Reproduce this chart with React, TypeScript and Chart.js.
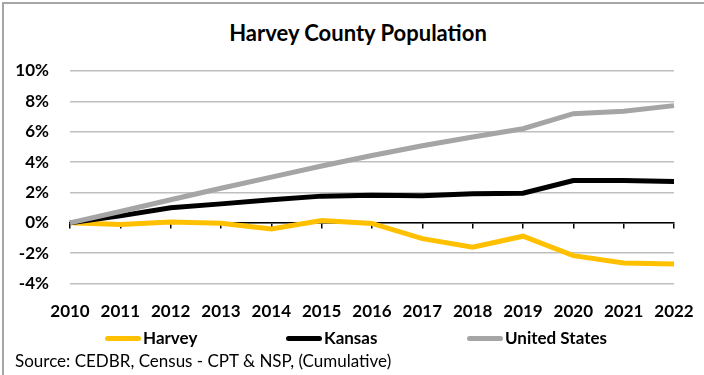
import React, { useEffect, useRef } from "react";
import { Chart, registerables } from "chart.js";

Chart.register(...registerables);

const years = ["2010", "2011", "2012", "2013", "2014", "2015", "2016", "2017", "2018", "2019", "2020", "2021", "2022"];
const harvey = [0, -0.11, 0.06, -0.02, -0.4, 0.15, -0.04, -1.04, -1.61, -0.88, -2.16, -2.64, -2.71];
const kansas = [0, 0.46, 0.99, 1.25, 1.52, 1.76, 1.82, 1.78, 1.91, 1.95, 2.79, 2.79, 2.73];
const unitedStates = [0, 0.75, 1.52, 2.28, 3.01, 3.74, 4.44, 5.08, 5.65, 6.2, 7.19, 7.35, 7.72];
const seriesNames = ["Harvey", "Kansas", "United States"];
const seriesColors = ["#FFC000", "#000000", "#A5A5A5"];
const yTicks = [10, 8, 6, 4, 2, 0, -2, -4];
const titleText = "Harvey County Population";
const sourceText = "Source: CEDBR, Census - CPT & NSP, (Cumulative)";

const FONT = "Lato, 'DejaVu Sans', sans-serif";

export default function App() {
  const ref = useRef<HTMLCanvasElement | null>(null);

  useEffect(() => {
    if (!ref.current) return;
    const data = [harvey, kansas, unitedStates];
    const chart = new Chart(ref.current, {
      type: "line",
      data: {
        labels: years,
        datasets: data.map((d, i) => ({
          label: seriesNames[i],
          data: d,
          borderColor: seriesColors[i],
          backgroundColor: seriesColors[i],
          borderWidth: 5,
          pointRadius: 0,
          tension: 0,
          xAxisID: "x",
          yAxisID: "y",
          order: 3 - i,
        })),
      },
      options: {
        animation: false,
        responsive: false,
        maintainAspectRatio: false,
        layout: { padding: { left: 10, right: 30, top: 71, bottom: 9 } },
        scales: {
          x: {
            type: "category",
            position: "bottom",
            offset: false,
            grid: { display: false, drawTicks: false },
            border: { display: false },
            afterFit: (s: any) => {
              s.paddingLeft = 0;
              s.paddingRight = 0;
            },
            ticks: {
              color: "#000",
              font: { family: FONT, size: 17, weight: "bold" },
              padding: 18,
              maxRotation: 0,
              autoSkip: false,
            },
          },
          x2: {
            type: "category",
            labels: years,
            position: { y: 0 } as any,
            offset: false,
            grid: { drawOnChartArea: false, drawTicks: true, tickLength: 5, color: "#000", lineWidth: 1.5 },
            border: { display: true, color: "#000", width: 1.5 },
            ticks: { display: false },
          },
          y: {
            min: -4,
            max: 10,
            afterBuildTicks: (axis: any) => {
              axis.ticks = yTicks.map((v) => ({ value: v }));
            },
            afterFit: (s: any) => {
              s.width = 60;
            },
            grid: { color: "#BFBFBF", lineWidth: 1.5, drawTicks: false },
            border: { display: false },
            ticks: {
              color: "#000",
              font: { family: FONT, size: 17, weight: "bold" },
              padding: 21,
              autoSkip: false,
              callback: (v: any) => `${v}%`,
            },
          },
        },
        plugins: {
          title: { display: false },
          legend: { display: false },
          tooltip: { enabled: false },
        },
      },
    });
    return () => chart.destroy();
  }, []);

  return (
    <div
      style={{
        position: "fixed",
        left: 0,
        top: 0,
        width: 704,
        height: 375,
        background: "#fff",
        fontFamily: FONT,
        color: "#000",
      }}
    >
      <div
        style={{
          position: "absolute",
          left: 2,
          top: 2,
          right: 0,
          bottom: 0,
          borderLeft: "2px solid #A6A6A6",
          borderTop: "2px solid #A6A6A6",
        }}
      />
      <div
        style={{
          position: "absolute",
          left: 0,
          width: 716,
          top: 19,
          height: 28,
          lineHeight: "28px",
          textAlign: "center",
          fontSize: 22,
          fontWeight: "bold",
          whiteSpace: "nowrap",
        }}
      >
        {titleText}
      </div>
      <canvas ref={ref} width={704} height={349} style={{ position: "absolute", left: 0, top: 0 }} />
      <div style={{ position: "absolute", left: 105, top: 327, height: 22, display: "flex" }}>
        {seriesNames.map((name, i) => (
          <div key={name} style={{ width: 181, display: "flex", alignItems: "center", height: 22 }}>
            <span
              style={{
                display: "inline-block",
                width: 36,
                height: 5,
                borderRadius: 3,
                background: seriesColors[i],
                marginRight: 2,
              }}
            />
            <span style={{ fontSize: 17, fontWeight: "bold", lineHeight: "22px" }}>{name}</span>
          </div>
        ))}
      </div>
      <div
        style={{
          position: "absolute",
          left: 15,
          top: 350,
          fontSize: 17,
          lineHeight: "22px",
          whiteSpace: "nowrap",
        }}
      >
        {sourceText}
      </div>
    </div>
  );
}
